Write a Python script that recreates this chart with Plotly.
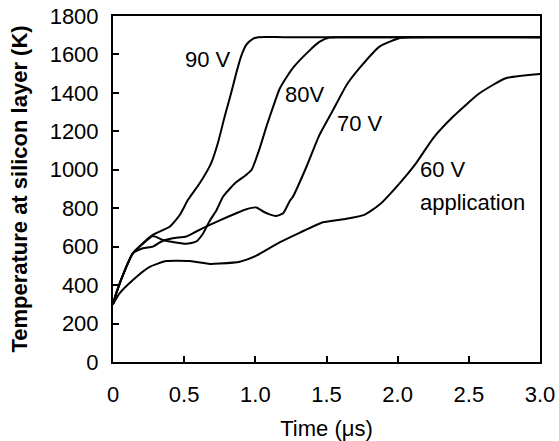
import plotly.graph_objects as go

# Time (µs) / temperature (K)
x_90 = [0, 0.023, 0.094, 0.14, 0.21, 0.28, 0.4, 0.47, 0.527, 0.609, 0.69, 0.737, 0.785, 0.83, 0.866, 0.9, 0.937, 0.98, 1.02, 1.2, 3.0]
y_90 = [300, 358, 496, 566, 618, 661, 705, 766, 844, 930, 1035, 1139, 1278, 1399, 1503, 1590, 1651, 1680, 1690, 1690, 1690]

x_80 = [0, 0.023, 0.094, 0.14, 0.21, 0.28, 0.352, 0.44, 0.515, 0.585, 0.634, 0.68, 0.727, 0.773, 0.857, 0.93, 0.974, 1.03, 1.08, 1.126, 1.17, 1.218, 1.27, 1.38, 1.45, 1.52, 1.6, 3.0]
y_80 = [300, 358, 496, 566, 615, 655, 635, 622, 615, 627, 670, 735, 790, 860, 930, 970, 1000, 1110, 1230, 1330, 1420, 1480, 1535, 1620, 1665, 1688, 1690, 1690]

x_70 = [0, 0.023, 0.094, 0.14, 0.21, 0.28, 0.34, 0.42, 0.515, 0.585, 0.68, 0.75, 0.866, 0.937, 1.007, 1.055, 1.1, 1.148, 1.196, 1.24, 1.264, 1.36, 1.45, 1.547, 1.64, 1.733, 1.875, 2.015, 2.1, 3.0]
y_70 = [300, 358, 496, 566, 592, 600, 627, 644, 653, 679, 713, 737, 774, 795, 804, 783, 768, 760, 774, 835, 860, 1017, 1180, 1312, 1440, 1530, 1642, 1686, 1690, 1690]

x_60 = [0, 0.047, 0.14, 0.258, 0.375, 0.54, 0.68, 0.75, 0.89, 1.007, 1.17, 1.31, 1.475, 1.64, 1.77, 1.873, 2.015, 2.13, 2.25, 2.39, 2.575, 2.76, 3.0]
y_60 = [300, 358, 427, 495, 525, 525, 510, 512, 522, 553, 622, 672, 727, 745, 767, 819, 931, 1035, 1165, 1277, 1398, 1476, 1498]

x_ticks = [0, 0.5, 1.0, 1.5, 2.0, 2.5, 3.0]
x_tick_text = ["0", "0.5", "1.0", "1.5", "2.0", "2.5", "3.0"]
y_ticks = [0, 200, 400, 600, 800, 1000, 1200, 1400, 1600, 1800]

FONT = "Liberation Sans, Arial, Helvetica, sans-serif"
FS = 22

fig = go.Figure()
for xs, ys in [(x_60, y_60), (x_70, y_70), (x_80, y_80), (x_90, y_90)]:
    fig.add_trace(go.Scatter(x=xs, y=ys, mode="lines",
                             line=dict(color="black", width=2, shape="spline", smoothing=0.5),
                             showlegend=False, hoverinfo="skip", cliponaxis=False))

labels = [
    ("90 V", 0.84, 1573, "right"),
    ("80V", 1.196, 1391, "left"),
    ("70 V", 1.557, 1243, "left"),
    ("60 V", 2.14, 1000, "left"),
    ("application", 2.14, 828, "left"),
]
for txt, lx, ly, anc in labels:
    fig.add_annotation(x=lx, y=ly, text=txt, showarrow=False, xanchor=anc, yanchor="middle",
                       font=dict(family=FONT, size=FS, color="black"))

fig.update_layout(
    width=559, height=441,
    margin=dict(l=113, r=19, t=16, b=79),
    paper_bgcolor="white", plot_bgcolor="white",
    font=dict(family=FONT, size=FS, color="black"),
)
fig.update_xaxes(range=[0, 3.0], tickvals=x_ticks, ticktext=x_tick_text,
                 ticks="inside", ticklen=6, tickwidth=1.5, tickcolor="black",
                 showline=True, linecolor="black", linewidth=2, mirror=True,
                 showgrid=False, zeroline=False, automargin=False,
                 ticklabeloverflow="allow",
                 tickfont=dict(family=FONT, size=FS), ticklabelstandoff=12,
                 title=dict(text="Time (\u03bcs)", font=dict(family=FONT, size=FS), standoff=14))
fig.update_yaxes(range=[0, 1800], tickvals=y_ticks,
                 ticks="inside", ticklen=6, tickwidth=1.5, tickcolor="black",
                 showline=True, linecolor="black", linewidth=2, mirror=True,
                 showgrid=False, zeroline=False, automargin=False,
                 ticklabeloverflow="allow",
                 tickfont=dict(family=FONT, size=FS), ticklabelstandoff=8,
                 title=dict(text="<b>Temperature at silicon layer (K)</b>",
                            font=dict(family=FONT, size=FS), standoff=16))

# remove the browser's default 8px body margin so the figure fills the window exactly
fig.write_html("out.html", config={"displayModeBar": False},
               post_script="document.body.style.margin='0';")
